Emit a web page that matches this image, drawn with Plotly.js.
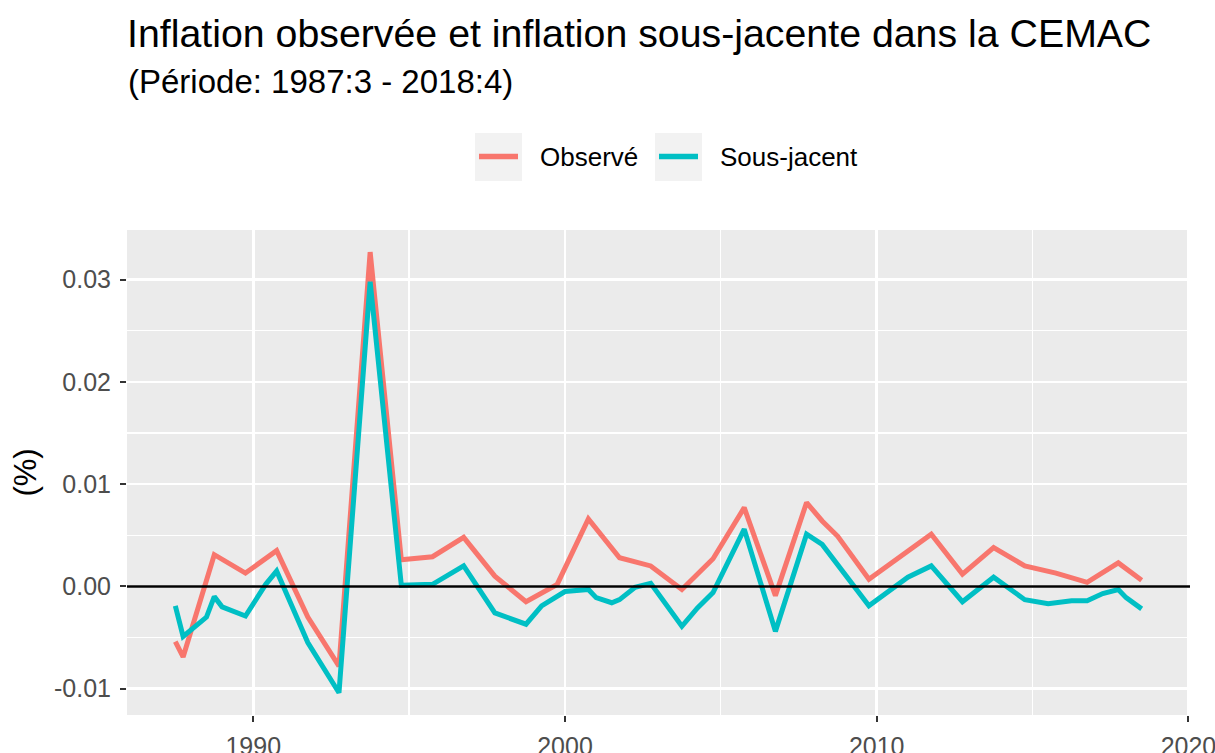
<!DOCTYPE html>
<html>
<head>
<meta charset="utf-8">
<script src="https://cdn.plot.ly/plotly-3.0.1.min.js"></script>
<style>html,body{margin:0;padding:0;background:#fff;}#chart{width:1215px;height:753px;}</style>
</head>
<body>
<div id="chart"></div>
<script>
// Inflation observée (decimal year, value)
const obsYears = [1987.5, 1987.75, 1988.75, 1989.75, 1990.75, 1991.75, 1992.75, 1993.75, 1994.75, 1995.75,
  1996.75, 1997.75, 1998.75, 1999.75, 2000.75, 2001.75, 2002.75, 2003.75, 2004.75, 2005.75,
  2006.75, 2007.75, 2008.25, 2008.75, 2009.75, 2010.75, 2011.75, 2012.75, 2013.75, 2014.75,
  2015.75, 2016.75, 2017.75, 2018.5];
const obsValues = [-0.0054, -0.0069, 0.0031, 0.0013, 0.0035, -0.0030, -0.0078, 0.0327, 0.0026, 0.0029,
  0.0048, 0.0010, -0.0015, 0.0002, 0.0066, 0.0028, 0.0020, -0.0003, 0.0027, 0.0077,
  -0.0009, 0.0082, 0.0064, 0.0049, 0.0007, 0.0029, 0.0051, 0.0012, 0.0038, 0.0020,
  0.0013, 0.0004, 0.0023, 0.0006];

// Inflation sous-jacente (decimal year, value)
const sousYears = [1987.5, 1987.75, 1988.5, 1988.75, 1989.0, 1989.75, 1990.4, 1990.75, 1991.75, 1992.75,
  1993.75, 1994.75, 1995.75, 1996.75, 1997.75, 1998.75, 1999.25, 2000.0, 2000.75, 2001.0,
  2001.5, 2001.75, 2002.25, 2002.75, 2003.75, 2004.25, 2004.75, 2005.75, 2006.75, 2007.75,
  2008.25, 2009.75, 2011.0, 2011.75, 2012.75, 2013.75, 2014.75, 2015.5, 2016.25, 2016.75,
  2017.25, 2017.75, 2018.0, 2018.5];
const sousValues = [-0.0019, -0.0049, -0.0030, -0.0010, -0.0020, -0.0029, 0.0002, 0.0015, -0.0055, -0.0104,
  0.0298, 0.0001, 0.0002, 0.0020, -0.0026, -0.0037, -0.0019, -0.0005, -0.0003, -0.0011,
  -0.0016, -0.0013, -0.0001, 0.0003, -0.0039, -0.0021, -0.0006, 0.0056, -0.0044, 0.0051,
  0.0041, -0.0019, 0.0009, 0.0020, -0.0015, 0.0009, -0.0013, -0.0017, -0.0014, -0.0014,
  -0.0007, -0.0003, -0.0011, -0.0022];

const seriesNames = ['Observé', 'Sous-jacent'];
const seriesColors = ['#F8766D', '#00BFC4'];
const xTickVals = [1990, 2000, 2010, 2020];
const yTickVals = [-0.01, 0.00, 0.01, 0.02, 0.03];
const yTickText = ['-0.01', '0.00', '0.01', '0.02', '0.03'];

const FONT = 'Liberation Sans, Arial, sans-serif';
const W = 1215, H = 753;
const M = {l: 127, r: 25, t: 230, b: 38};
const pw = W - M.l - M.r, ph = H - M.t - M.b;
const px2x = p => (p - M.l) / pw;
const py2y = p => (H - M.b - p) / ph;

const traces = [
  {x: obsYears, y: obsValues, name: seriesNames[0], type: 'scatter', mode: 'lines',
   line: {color: seriesColors[0], width: 5}},
  {x: sousYears, y: sousValues, name: seriesNames[1], type: 'scatter', mode: 'lines',
   line: {color: seriesColors[1], width: 5}}
];

// ggplot-style legend (top, horizontal): grey key box, key line, label
const legendKeyLeft = [475, 655];
const legendShapes = [];
const legendLabels = [];
legendKeyLeft.forEach((x0, i) => {
  legendShapes.push({type: 'rect', xref: 'paper', yref: 'paper',
    x0: px2x(x0), x1: px2x(x0 + 47), y0: py2y(181), y1: py2y(133),
    fillcolor: '#F2F2F2', line: {width: 0}, layer: 'below'});
  legendShapes.push({type: 'line', xref: 'paper', yref: 'paper',
    x0: px2x(x0 + 4), x1: px2x(x0 + 43), y0: py2y(156.5), y1: py2y(156.5),
    line: {color: seriesColors[i], width: 5.5}, layer: 'above'});
  legendLabels.push({text: seriesNames[i], xref: 'paper', yref: 'paper',
    x: px2x(x0 + 65), xanchor: 'left', xshift: -2, y: py2y(157), yanchor: 'middle', showarrow: false,
    font: {size: 26, color: '#000', family: FONT}});
});

const layout = {
  width: W, height: H,
  paper_bgcolor: '#FFFFFF', plot_bgcolor: '#EBEBEB',
  margin: M,
  font: {family: FONT, color: '#000'},
  title: {text: 'Inflation observée et inflation sous-jacente dans la CEMAC',
    font: {size: 39.3, color: '#000', family: FONT},
    x: 127/W, xanchor: 'left', xref: 'container',
    y: 1 - 33/H, yanchor: 'middle', yref: 'container'},
  annotations: [{text: '(Période: 1987:3 - 2018:4)', xref: 'paper', yref: 'paper',
    x: 0, xanchor: 'left', xshift: -1, y: py2y(81), yanchor: 'middle', showarrow: false,
    font: {size: 33, color: '#000', family: FONT}}].concat(legendLabels),
  showlegend: false,
  xaxis: {range: [1985.95, 2020.05], tickvals: xTickVals, ticktext: xTickVals.map(String),
    showgrid: true, gridcolor: '#FFFFFF', gridwidth: 2.5,
    minor: {dtick: 5, tick0: 1985, showgrid: true, gridcolor: '#FFFFFF', gridwidth: 1.3, ticks: ''},
    zeroline: false, showline: false, ticks: 'outside', ticklen: 6, tickwidth: 2, tickcolor: '#333333',
    tickfont: {size: 25, color: '#4D4D4D', family: FONT}, ticklabelstandoff: 3,
    ticklabeloverflow: 'allow', fixedrange: true},
  yaxis: {range: [-0.01258, 0.03486], tickvals: yTickVals, ticktext: yTickText,
    showgrid: true, gridcolor: '#FFFFFF', gridwidth: 2.5,
    minor: {dtick: 0.005, tick0: 0, showgrid: true, gridcolor: '#FFFFFF', gridwidth: 1.3, ticks: ''},
    zeroline: false, showline: false, ticks: 'outside', ticklen: 6, tickwidth: 2, tickcolor: '#333333',
    tickfont: {size: 25, color: '#4D4D4D', family: FONT}, ticklabelstandoff: 4,
    title: {text: '(%)', font: {size: 31, color: '#000', family: FONT}, standoff: 8}, fixedrange: true},
  shapes: legendShapes.concat([
    {type: 'line', xref: 'paper', yref: 'y', x0: 0, x1: 1, y0: 0, y1: 0,
     line: {color: '#000000', width: 2.5}, layer: 'above'}
  ])
};

Plotly.newPlot('chart', traces, layout, {displayModeBar: false, staticPlot: true});
</script>
</body>
</html>
